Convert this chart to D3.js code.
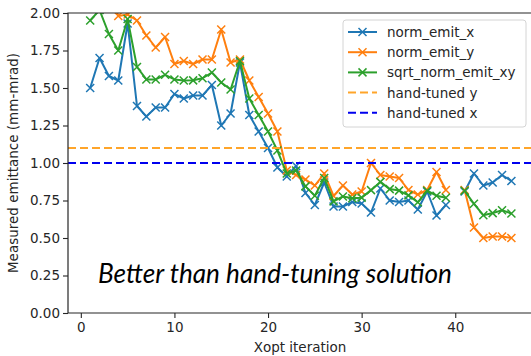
<!DOCTYPE html>
<html>
<head>
<meta charset="utf-8">
<script src="https://cdn.jsdelivr.net/npm/d3@7"></script>
<style>
  html, body { margin: 0; padding: 0; background: #fff; }
  svg { display: block; }
</style>
</head>
<body>
<svg id="chart" width="531" height="356"></svg>
<script>
// Xopt iterations (iteration 40 has no measurement)
const iterations = [1,2,3,4,5,6,7,8,9,10,11,12,13,14,15,16,17,18,19,20,21,22,23,24,25,26,27,28,29,30,31,32,33,34,35,36,37,38,39,40,41,42,43,44,45,46];

const normEmitX = [1.50,1.70,1.58,1.55,1.93,1.38,1.31,1.37,1.37,1.46,1.43,1.45,1.45,1.52,1.25,1.33,1.67,1.32,1.21,1.10,0.97,0.91,0.98,0.80,0.72,0.87,0.71,0.71,0.74,0.73,0.67,0.83,0.75,0.74,0.75,0.69,0.81,0.65,0.72,null,0.81,0.93,0.85,0.87,0.92,0.88];

const normEmitY = [2.54,2.40,2.19,1.98,1.99,1.95,1.85,1.77,1.84,1.66,1.68,1.66,1.69,1.69,1.89,1.67,1.69,1.55,1.44,1.33,1.21,0.95,0.92,0.89,0.85,0.93,0.78,0.85,0.79,0.81,1.00,0.92,0.91,0.90,0.82,0.79,0.82,0.94,0.82,null,0.82,0.57,0.50,0.51,0.51,0.50];

const sqrtNormEmitXY = [1.95,2.02,1.86,1.75,1.96,1.64,1.557,1.557,1.588,1.557,1.550,1.551,1.565,1.603,1.537,1.490,1.680,1.430,1.320,1.210,1.083,0.930,0.950,0.844,0.782,0.900,0.744,0.777,0.765,0.769,0.819,0.874,0.826,0.816,0.784,0.738,0.815,0.782,0.768,null,0.815,0.728,0.652,0.666,0.685,0.663];

const handTunedY = 1.10;
const handTunedX = 1.00;

const xTicks = [0, 10, 20, 30, 40];
const yTicks = [0.00, 0.25, 0.50, 0.75, 1.00, 1.25, 1.50, 1.75, 2.00];

const series = [
  { name: "norm_emit_x", values: normEmitX, color: "#1f77b4" },
  { name: "norm_emit_y", values: normEmitY, color: "#ff7f0e" },
  { name: "sqrt_norm_emit_xy", values: sqrtNormEmitXY, color: "#2ca02c" }
];
const refLines = [
  { name: "hand-tuned y", value: handTunedY, color: "#ffa52a" },
  { name: "hand-tuned x", value: handTunedX, color: "#0000ee" }
];

const svg = d3.select("#chart");
const plotLeft = 68, plotRight = 532, plotTop = 13, plotBottom = 313;
const font = "'DejaVu Sans', sans-serif";
const ink = "#262626";

const x = d3.scaleLinear().domain([-1.37, 48.2]).range([plotLeft, plotRight]);
const y = d3.scaleLinear().domain([0, 2]).range([plotBottom, plotTop]);

svg.append("defs").append("clipPath").attr("id", "plot-clip")
  .append("rect").attr("x", plotLeft).attr("y", plotTop)
  .attr("width", plotRight - plotLeft).attr("height", plotBottom - plotTop);

const plot = svg.append("g").attr("clip-path", "url(#plot-clip)");

const line = d3.line()
  .defined(d => d.v !== null)
  .x(d => x(d.i))
  .y(d => y(d.v));

const markerPath = (s) => `M${-s},${-s}L${s},${s}M${-s},${s}L${s},${-s}`;

series.forEach(s => {
  const pts = iterations.map((it, k) => ({ i: it, v: s.values[k] }));
  plot.append("path")
    .datum(pts)
    .attr("fill", "none")
    .attr("stroke", s.color)
    .attr("stroke-width", 2)
    .attr("stroke-linejoin", "round")
    .attr("d", line);
  plot.selectAll(null)
    .data(pts.filter(d => d.v !== null))
    .enter().append("path")
    .attr("transform", d => `translate(${x(d.i)},${y(d.v)})`)
    .attr("d", markerPath(4))
    .attr("stroke", s.color)
    .attr("stroke-width", 1.5)
    .attr("fill", "none");
});

refLines.forEach(r => {
  plot.append("line")
    .attr("x1", plotLeft).attr("x2", plotRight)
    .attr("y1", y(r.value)).attr("y2", y(r.value))
    .attr("stroke", r.color)
    .attr("stroke-width", 2)
    .attr("stroke-dasharray", "8,4");
});

// Axes
const xAxis = svg.append("g")
  .attr("transform", `translate(0,${plotBottom})`)
  .call(d3.axisBottom(x).tickValues(xTicks).tickFormat(d3.format("d")).tickSize(5).tickPadding(4));
const yAxis = svg.append("g")
  .attr("transform", `translate(${plotLeft},0)`)
  .call(d3.axisLeft(y).tickValues(yTicks).tickFormat(d3.format(".2f")).tickSize(5).tickPadding(3));

[xAxis, yAxis].forEach(a => {
  a.select(".domain").remove();
  a.selectAll(".tick line").attr("stroke", ink).attr("stroke-width", 1.1);
  a.selectAll(".tick text").attr("fill", ink).style("font-family", font).style("font-size", "13.5px");
});

// Frame (left, bottom, top spines)
svg.append("path")
  .attr("d", `M${plotRight},${plotTop}H${plotLeft}V${plotBottom}H${plotRight}`)
  .attr("fill", "none")
  .attr("stroke", ink)
  .attr("stroke-width", 1.2);

// Axis titles
svg.append("text")
  .attr("x", 300).attr("y", 352)
  .attr("text-anchor", "middle")
  .attr("fill", ink)
  .style("font-family", font).style("font-size", "13.5px")
  .text("Xopt iteration");

svg.append("text")
  .attr("transform", `translate(18,${(plotTop + plotBottom) / 2}) rotate(-90)`)
  .attr("text-anchor", "middle")
  .attr("fill", ink)
  .style("font-family", font).style("font-size", "13.5px")
  .text("Measured emittance (mm-mrad)");

// Legend
const legend = svg.append("g").attr("transform", "translate(343,20)");
legend.append("rect")
  .attr("width", 183).attr("height", 107)
  .attr("rx", 3)
  .attr("fill", "#fff").attr("fill-opacity", 0.85)
  .attr("stroke", "#d4d4d4").attr("stroke-width", 1);

const legendItems = [
  ...series.map(s => ({ name: s.name, color: s.color, marker: true })),
  ...refLines.map(r => ({ name: r.name, color: r.color, marker: false }))
];
legendItems.forEach((it, k) => {
  const g = legend.append("g").attr("transform", `translate(0,${12 + k * 20.2})`);
  g.append("line")
    .attr("x1", 5).attr("x2", 34)
    .attr("stroke", it.color).attr("stroke-width", 2)
    .attr("stroke-dasharray", it.marker ? null : "8,4");
  if (it.marker) {
    g.append("path")
      .attr("transform", "translate(19.5,0)")
      .attr("d", markerPath(4))
      .attr("stroke", it.color).attr("stroke-width", 1.5);
  }
  g.append("text")
    .attr("x", 44).attr("y", 5)
    .attr("fill", ink)
    .style("font-family", font).style("font-size", "13.5px")
    .text(it.name);
});

// Annotation
const note = svg.append("text")
  .attr("x", 98).attr("y", 283)
  .attr("fill", "#000")
  .style("font-family", "Lato, sans-serif")
  .style("font-style", "italic")
  .style("font-size", "26px")
  .text("Better than hand-tuning solution");
const w = note.node().getComputedTextLength();
note.style("font-size", (26 * 354 / w).toFixed(2) + "px");
</script>
</body>
</html>
